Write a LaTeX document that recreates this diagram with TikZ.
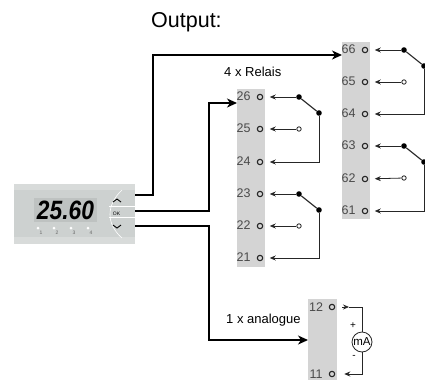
\documentclass[tikz,border=0pt]{standalone}
\usepackage{fontspec}
\setmainfont{Liberation Sans}
\usetikzlibrary{arrows.meta}
\definecolor{blockgray}{HTML}{D4D4D4}
\definecolor{devgray}{HTML}{CDD1D0}
\definecolor{devlight}{HTML}{D8DBDA}
\definecolor{lcdgray}{HTML}{BEC2C1}
\definecolor{numgray}{HTML}{4A4A4A}
\tikzset{
    block/.style={fill=blockgray, draw=none, anchor=north west, inner sep=0pt},
    pin/.style={circle, draw=black!85, line width=1.1pt, fill=none, minimum size=5.4pt, inner sep=0pt},
    num/.style={text=numgray, font=\fontsize{12.5}{14}\selectfont, inner sep=0pt},
    heading/.style={font=\fontsize{13}{15}\selectfont, inner sep=0pt, anchor=west},
    dot/.style={circle, fill=black, minimum size=5.6pt, inner sep=0pt},
    opendot/.style={circle, draw=black!85, line width=0.8pt, fill=white, minimum size=4.4pt, inner sep=0pt},
    wire/.style={-{Stealth[length=6pt, width=5pt]}, line width=0.8pt, black!85, shorten >=6.5pt},
    contact/.style={line width=1.1pt, black!85},
    feed/.style={-{Stealth[length=10pt, width=9pt, inset=3pt]}, line width=1.5pt, black},
    led/.style={circle, fill=white, minimum size=3pt, inner sep=0pt},
    ledtxt/.style={font=\fontsize{5}{6}\selectfont, text=black!60, inner sep=0pt},
}
\begin{document}
\begin{tikzpicture}[x=1pt, y=-1pt]
    \useasboundingbox (0,0) rectangle (425,380);

    % Headings
    \node[font=\fontsize{21.5}{24}\selectfont, inner sep=0pt, anchor=west] (title) at (151,22) {Output:};
    \node[heading] (relais) at (224,72) {4 x Relais};
    \node[heading] (analog) at (226,320) {1 x analogue};

    % Terminal blocks
    \node[block, minimum width=28pt, minimum height=178pt] (blockb) at (237,89) {};
    \node[block, minimum width=28pt, minimum height=177pt] (blockc) at (342,42) {};
    \node[block, minimum width=29pt, minimum height=81pt] (blockd) at (308,299) {};

    % Terminals
    \foreach \n/\y in {26/97,25/129,24/162,23/194,22/226,21/258} {
        \node[pin] (t\n) at (260,\y) {};
        \node[num] (l\n) at (243.5,\y-1) {\n};
    }
    \foreach \n/\y in {66/50,65/82,64/114,63/146,62/179,61/211} {
        \node[pin] (t\n) at (365,\y) {};
        \node[num] (l\n) at (348.5,\y-1) {\n};
    }
    \foreach \n/\y in {12/307,11/374} {
        \node[pin] (t\n) at (332,\y) {};
        \node[num] (l\n) at (316,\y) {\n};
    }

    % Relay contacts
    \foreach \a/\b/\c/\x/\y in {26/25/24/299/97, 23/22/21/299/194, 66/65/64/404/50, 63/62/61/404/146} {
        \node[dot] (c\a) at (\x,\y) {};
        \node[dot] (m\a) at (\x+20,\y+16) {};
        \node[opendot] (o\b) at (\x,\y+32) {};
        \draw[contact] (c\a) -- (m\a);
        \draw[wire] (c\a) -- (t\a);
        \draw[wire] (o\b) -- (t\b);
        \draw[wire] (m\a) |- (t\c);
    }

    % Device
    \node[block, fill=devgray, minimum width=121pt, minimum height=60pt] (dev) at (14,184) {};
    \fill[devlight] (14,184) rectangle (135,190);
    \fill[devlight] (14,237) rectangle (135,244);
    \fill[lcdgray] (34,198) rectangle (97,222);
    \node[font=\fontsize{26.5}{28}\selectfont\bfseries\itshape, xscale=.86, inner sep=0pt] (lcd) at (65.5,210) {25.60};
    \foreach \i/\x in {1/38,2/54,3/71,4/88} {
        \node[led] (led\i) at (\x,228) {};
        \node[ledtxt] (num\i) at (\x+3,233) {\i};
    }
    \draw[white, line width=0.6pt] (122,190) .. controls (106,205) and (106,224) .. (122,238);
    \draw[white, line width=0.6pt] (109,206) -- (135,206);
    \draw[white, line width=0.6pt] (109,217) -- (135,217);
    \draw[line width=0.9pt] (113,202) -- (117,199) -- (121,202);
    \draw[line width=0.9pt] (113,225) -- (117,228) -- (121,225);
    \node[font=\fontsize{5}{6}\selectfont, inner sep=0pt] (ok) at (116.5,213.5) {OK};

    % Connections from device
    \coordinate (outa) at (135,195);
    \coordinate (outb) at (135,211);
    \coordinate (outc) at (135,226);
    \coordinate (inc) at (blockc.west |- 0,55);
    \coordinate (inb) at (blockb.west |- 0,103);
    \coordinate (ind) at (blockd.west |- 0,340);
    \draw[feed] (outa) -- ++(18,0) |- (inc);
    \draw[feed] (outb) -- ++(74,0) |- (inb);
    \draw[feed] (outc) -- ++(74,0) |- (ind);

    % Analogue output
    \node[circle, draw=black!85, line width=0.8pt, fill=white, minimum size=20pt, inner sep=0pt, font=\fontsize{11.5}{13}\selectfont] (ma) at (362,342) {mA};
    \node[font=\fontsize{10}{11}\selectfont, inner sep=0pt] (plus) at (353,326) {+};
    \node[font=\fontsize{10}{11}\selectfont, inner sep=0pt] (minus) at (354,357) {-};
    \coordinate (a12) at (342,307);
    \coordinate (b12) at (349,307);
    \draw[-{Stealth[length=6pt, width=5pt]}, line width=0.8pt, black!85] (a12) -- (b12);
    \draw[contact, line width=0.8pt] (b12) -| (ma);
    \draw[wire, shorten >=9pt] (ma) |- (t11);
\end{tikzpicture}
\end{document}
